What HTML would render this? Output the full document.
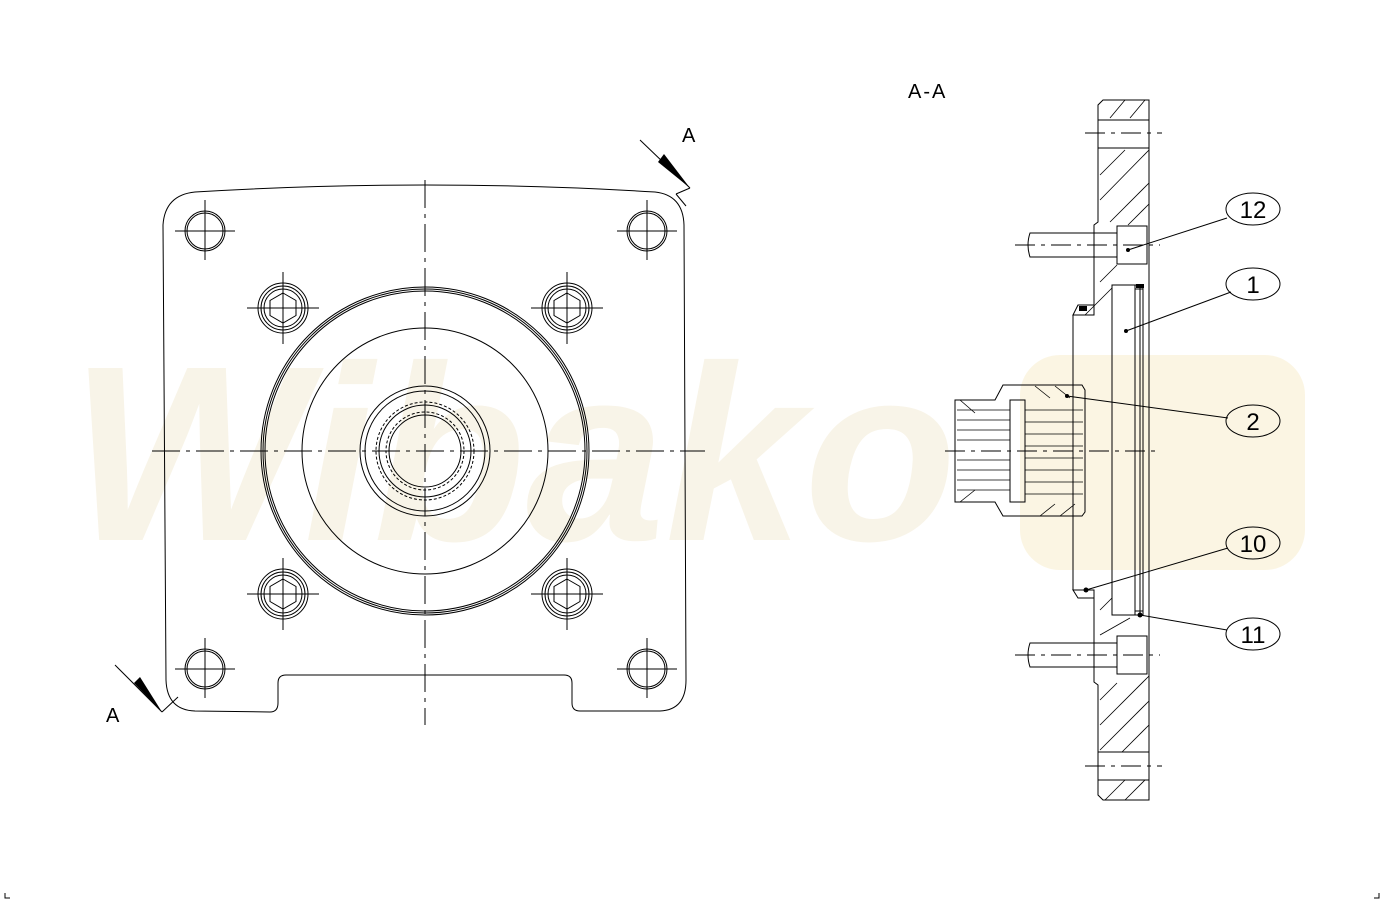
<!DOCTYPE html>
<html><head><meta charset="utf-8"><style>html,body{margin:0;padding:0;background:#fff}svg{display:block}</style></head>
<body>
<svg width="1384" height="903" viewBox="0 0 1384 903" xmlns="http://www.w3.org/2000/svg" font-family="Liberation Sans, sans-serif">
<!-- watermark -->
<g fill="#fbf6e8" opacity="0.9">
<text x="70" y="540" font-size="250" font-weight="bold" font-style="italic" fill="#f8f3e6">Wibako</text>
<rect x="1020" y="355" width="285" height="215" rx="40" fill="#fbf4e0"/>
</g>
<g stroke="#000" stroke-width="1" fill="none">
<!-- plate outline -->
<path d="M195,192 Q425,178 655,192 Q683,195 684,225 L686,680 Q686,710 660,711 L580,711 Q572,711 572,703 L572,683 Q572,675 564,675 L286,675 Q278,675 278,683 L278,703 Q278,712 270,712 L195,711 Q167,710 166,680 L163,225 Q165,195 195,192 Z"/>
<!-- centerlines -->
<g stroke-dasharray="28,6,4,6">
<line x1="152" y1="451" x2="705" y2="451"/>
<line x1="425" y1="180" x2="425" y2="725"/>
</g>
<!-- large circles -->
<circle cx="425" cy="451" r="164"/>
<circle cx="425" cy="451" r="162"/>
<circle cx="425" cy="451" r="160"/>
<circle cx="425" cy="451" r="123"/>
<circle cx="425" cy="451" r="65"/>
<circle cx="425" cy="451" r="60"/>
<circle cx="425" cy="451" r="49" stroke-dasharray="3,2"/>
<circle cx="425" cy="451" r="46"/>
<circle cx="425" cy="451" r="39" stroke-dasharray="3,2"/>
<circle cx="425" cy="451" r="36"/>
<!-- corner holes -->
<g id="ch">
<circle cx="205" cy="231" r="20"/><circle cx="205" cy="231" r="18"/>
<line x1="175" y1="231" x2="235" y2="231"/><line x1="205" y1="200" x2="205" y2="260"/>
</g>
<g transform="translate(442,0)"><circle cx="205" cy="231" r="20"/><circle cx="205" cy="231" r="18"/><line x1="175" y1="231" x2="235" y2="231"/><line x1="205" y1="200" x2="205" y2="260"/></g>
<g transform="translate(0,438)"><circle cx="205" cy="231" r="20"/><circle cx="205" cy="231" r="18"/><line x1="175" y1="231" x2="235" y2="231"/><line x1="205" y1="200" x2="205" y2="260"/></g>
<g transform="translate(442,438)"><circle cx="205" cy="231" r="20"/><circle cx="205" cy="231" r="18"/><line x1="175" y1="231" x2="235" y2="231"/><line x1="205" y1="200" x2="205" y2="260"/></g>
<!-- bolts -->
<g transform="translate(283,308)"><circle r="25"/><circle r="22"/><circle r="19"/><polygon points="0,-15 13,-7.5 13,7.5 0,15 -13,7.5 -13,-7.5"/><line x1="-36" y1="0" x2="36" y2="0"/><line x1="0" y1="-36" x2="0" y2="36"/></g>
<g transform="translate(567,308)"><circle r="25"/><circle r="22"/><circle r="19"/><polygon points="0,-15 13,-7.5 13,7.5 0,15 -13,7.5 -13,-7.5"/><line x1="-36" y1="0" x2="36" y2="0"/><line x1="0" y1="-36" x2="0" y2="36"/></g>
<g transform="translate(283,594)"><circle r="25"/><circle r="22"/><circle r="19"/><polygon points="0,-15 13,-7.5 13,7.5 0,15 -13,7.5 -13,-7.5"/><line x1="-36" y1="0" x2="36" y2="0"/><line x1="0" y1="-36" x2="0" y2="36"/></g>
<g transform="translate(567,594)"><circle r="25"/><circle r="22"/><circle r="19"/><polygon points="0,-15 13,-7.5 13,7.5 0,15 -13,7.5 -13,-7.5"/><line x1="-36" y1="0" x2="36" y2="0"/><line x1="0" y1="-36" x2="0" y2="36"/></g>
<!-- section arrows -->
<line x1="640" y1="140" x2="690" y2="188"/>
<polyline points="676,194 690,188"/>
<line x1="676" y1="194" x2="686" y2="206"/>
<line x1="115" y1="665" x2="162" y2="712"/>
<line x1="162" y1="712" x2="178" y2="697"/>
</g>
<g fill="#000">
<polygon points="658,162 664,154 690,188"/>
<polygon points="134,683 140,677 162,712"/>
</g>
<g font-size="20" fill="#000">
<text x="682" y="142">A</text>
<text x="106" y="722">A</text>
<text x="908" y="98" letter-spacing="2">A-A</text>
</g>
<!-- section view -->
<g stroke="#000" stroke-width="1" fill="none">
<!-- flange outline -->
<path d="M1103,100 L1149,100 L1149,800 L1103,800 L1098,795 L1098,685 L1094,682 L1094,590 L1073,590 L1073,315 L1094,315 L1094,225 L1098,222 L1098,105 Z"/>
<line x1="1098" y1="120" x2="1149" y2="120"/>
<line x1="1098" y1="148" x2="1149" y2="148"/>
<line x1="1098" y1="752" x2="1149" y2="752"/>
<line x1="1098" y1="780" x2="1149" y2="780"/>
<g stroke-dasharray="20,6,4,6">
<line x1="1085" y1="133" x2="1162" y2="133"/>
<line x1="1085" y1="766" x2="1162" y2="766"/>
<line x1="1015" y1="245" x2="1160" y2="245"/>
<line x1="1015" y1="655" x2="1160" y2="655"/>
<line x1="945" y1="451" x2="1160" y2="451"/>
</g>
<!-- bolts -->
<path d="M1030,233 L1117,233 L1117,257 L1030,257 Q1026,245 1030,233 Z"/>
<rect x="1117" y="226" width="30" height="38"/>
<path d="M1030,643 L1117,643 L1117,667 L1030,667 Q1026,655 1030,643 Z"/>
<rect x="1117" y="636" width="30" height="38"/>
<!-- inner recess -->
<rect x="1112" y="285" width="28" height="330"/>
<rect x="1135" y="285" width="8" height="330"/>
<line x1="1135" y1="289" x2="1143" y2="289"/><line x1="1135" y1="611" x2="1143" y2="611"/>
<!-- hub -->
<path d="M1073,315 L1078,305 L1094,305 L1094,315 Z"/>
<path d="M1073,590 L1078,598 L1094,598 L1094,590 Z"/>
<!-- spline shaft -->
<path d="M955,400 L995,400 L1003,385 L1082,385 L1085,390 L1085,512 L1082,516 L1003,516 L995,502 L955,502 Z"/>
<rect x="1010" y="400" width="15" height="102"/>
<g stroke-width="0.8">
<line x1="957" y1="410" x2="1010" y2="410"/><line x1="957" y1="420" x2="1010" y2="420"/><line x1="957" y1="430" x2="1010" y2="430"/><line x1="957" y1="440" x2="1010" y2="440"/><line x1="957" y1="460" x2="1010" y2="460"/><line x1="957" y1="470" x2="1010" y2="470"/><line x1="957" y1="480" x2="1010" y2="480"/><line x1="957" y1="490" x2="1010" y2="490"/>
<line x1="1025" y1="410" x2="1083" y2="410"/><line x1="1025" y1="422" x2="1083" y2="422"/><line x1="1025" y1="434" x2="1083" y2="434"/><line x1="1025" y1="446" x2="1083" y2="446"/><line x1="1025" y1="458" x2="1083" y2="458"/><line x1="1025" y1="470" x2="1083" y2="470"/><line x1="1025" y1="482" x2="1083" y2="482"/><line x1="1025" y1="494" x2="1083" y2="494"/>
</g>
<!-- hatching -->
<g stroke-width="0.8">
<line x1="1110" y1="118" x2="1125" y2="100"/><line x1="1130" y1="118" x2="1145" y2="100"/>
<line x1="1100" y1="200" x2="1149" y2="150"/><line x1="1100" y1="175" x2="1125" y2="150"/><line x1="1110" y1="222" x2="1149" y2="183"/><line x1="1128" y1="225" x2="1149" y2="204"/>
<line x1="1085" y1="315" x2="1112" y2="288"/><line x1="1100" y1="282" x2="1117" y2="265"/>
<line x1="1100" y1="610" x2="1112" y2="598"/><line x1="1100" y1="635" x2="1130" y2="618"/>
<line x1="1100" y1="725" x2="1149" y2="676"/><line x1="1100" y1="750" x2="1149" y2="701"/><line x1="1122" y1="752" x2="1149" y2="725"/><line x1="1100" y1="700" x2="1117" y2="683"/>
<line x1="1105" y1="800" x2="1125" y2="780"/><line x1="1125" y1="800" x2="1145" y2="780"/>
<line x1="960" y1="400" x2="975" y2="413"/><line x1="1035" y1="386" x2="1050" y2="398"/><line x1="1055" y1="386" x2="1070" y2="398"/>
<line x1="960" y1="502" x2="975" y2="490"/><line x1="1040" y1="516" x2="1055" y2="504"/><line x1="1060" y1="516" x2="1075" y2="504"/>
</g>
<!-- leaders -->
<line x1="1128" y1="250" x2="1227" y2="218"/>
<line x1="1126" y1="331" x2="1231" y2="292"/>
<line x1="1067" y1="396" x2="1228" y2="418"/>
<line x1="1086" y1="590" x2="1228" y2="548"/>
<line x1="1140" y1="615" x2="1227" y2="630"/>
<ellipse cx="1253" cy="209" rx="27" ry="16"/>
<ellipse cx="1253" cy="284" rx="27" ry="16"/>
<ellipse cx="1253" cy="421" rx="27" ry="16"/>
<ellipse cx="1253" cy="543" rx="27" ry="16"/>
<ellipse cx="1253" cy="634" rx="27" ry="16"/>
<!-- corner marks -->
<polyline points="5,893 5,898 10,898"/>
<polyline points="1374,898 1379,898 1379,893"/>
</g>
<g fill="#000">
<circle cx="1128" cy="250" r="2"/><circle cx="1126" cy="331" r="2"/><circle cx="1067" cy="396" r="2"/><circle cx="1086" cy="590" r="2.5"/><circle cx="1140" cy="615" r="2.5"/>
<rect x="1079" y="306" width="8" height="5"/><rect x="1136" y="284" width="8" height="4"/>
</g>
<g font-size="24" fill="#000" text-anchor="middle">
<text x="1253" y="218">12</text>
<text x="1253" y="293">1</text>
<text x="1253" y="430">2</text>
<text x="1253" y="552">10</text>
<text x="1253" y="643">11</text>
</g>
</svg>
</body></html>
